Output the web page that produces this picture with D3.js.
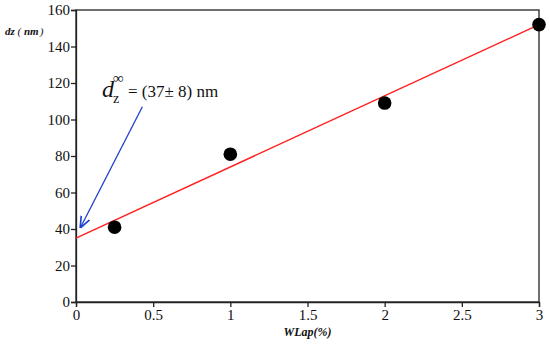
<!DOCTYPE html>
<html>
<head>
<meta charset="utf-8">
<script src="https://cdn.jsdelivr.net/npm/d3@7"></script>
<style>
  body { margin: 0; background: #fff; }
</style>
</head>
<body>
<div id="chart"></div>
<script>
// data
var wlap = [0.25, 1, 2, 3];
var dz = [41, 81, 109, 152];
var fitX = [0, 3];
var fitY = [35, 152];
var arrowX = [0.43, 0.03];
var arrowY = [107, 41];
var xTicks = [0, 0.5, 1, 1.5, 2, 2.5, 3];
var yTicks = [0, 20, 40, 60, 80, 100, 120, 140, 160];

var SERIF = "'Liberation Serif', 'Times New Roman', 'DejaVu Serif', serif";
var W = 550, H = 344;
var margin = {top: 10, right: 11, bottom: 42, left: 76};
var w = W - margin.left - margin.right;
var h = H - margin.top - margin.bottom;

var svg = d3.select("#chart").append("svg")
    .attr("width", W).attr("height", H)
    .attr("font-family", SERIF);

// arrow marker
svg.append("defs").append("marker")
    .attr("id", "ah").attr("viewBox", "0 0 10 10")
    .attr("refX", 9).attr("refY", 5)
    .attr("markerWidth", 9).attr("markerHeight", 9)
    .attr("orient", "auto-start-reverse")
    .append("path").attr("d", "M0,1 L10,5 L0,9").attr("fill", "none")
    .attr("stroke", "#1f3fd0").attr("stroke-width", 1.4);

var g = svg.append("g")
    .attr("transform", "translate(" + margin.left + "," + margin.top + ")");

var x = d3.scaleLinear().domain([0, 3]).range([0, w]);
var y = d3.scaleLinear().domain([0, 160]).range([h, 0]);

// frame
g.append("rect").attr("x", 0).attr("y", 0).attr("width", w).attr("height", h)
    .attr("fill", "none").attr("stroke", "#222").attr("stroke-width", 1.3);

// axes
g.append("g").attr("transform", "translate(0," + h + ")")
    .call(d3.axisBottom(x).tickValues(xTicks).tickFormat(d3.format("")).tickSizeOuter(0).tickSize(5))
    .attr("font-family", SERIF).attr("font-size", 15)
    .call(a => a.select(".domain").attr("stroke", "#222").attr("stroke-width", 1.3))
    .call(a => a.selectAll("line").attr("stroke", "#222").attr("stroke-width", 1.3))
    .call(a => a.selectAll("text").attr("fill", "#111").attr("y", 7).attr("dy", "0.75em"));

g.append("g")
    .call(d3.axisLeft(y).tickValues(yTicks).tickSizeOuter(0).tickSize(5))
    .attr("font-family", SERIF).attr("font-size", 15)
    .call(a => a.select(".domain").attr("stroke", "#222").attr("stroke-width", 1.3))
    .call(a => a.selectAll("line").attr("stroke", "#222").attr("stroke-width", 1.3))
    .call(a => a.selectAll("text").attr("fill", "#111").attr("x", -6));

// fit line
g.append("line")
    .attr("x1", x(fitX[0])).attr("y1", y(fitY[0]))
    .attr("x2", x(fitX[1])).attr("y2", y(fitY[1]))
    .attr("stroke", "#ff2020").attr("stroke-width", 1.4);

// points
g.selectAll("circle").data(wlap).enter().append("circle")
    .attr("cx", (d, i) => x(d)).attr("cy", (d, i) => y(dz[i]))
    .attr("r", 6.8).attr("fill", "#000");

// arrow
g.append("line")
    .attr("x1", x(arrowX[0])).attr("y1", y(arrowY[0]))
    .attr("x2", x(arrowX[1])).attr("y2", y(arrowY[1]))
    .attr("stroke", "#1f3fd0").attr("stroke-width", 1.3)
    .attr("marker-end", "url(#ah)");

// annotation
svg.append("text").attr("x", 102).attr("y", 97).attr("fill", "#111")
    .attr("font-size", 24).attr("font-style", "italic").text("d");
svg.append("text").attr("x", 113).attr("y", 103).attr("fill", "#111")
    .attr("font-size", 14).text("z");
svg.append("text").attr("x", 113).attr("y", 83).attr("fill", "#111")
    .attr("font-size", 15).text("\u221E");
svg.append("text").attr("x", 128).attr("y", 97).attr("fill", "#111")
    .attr("font-size", 17).text("= (37\u00B1 8) nm");

// axis titles
var yt = svg.append("text").attr("x", 5).attr("y", 35)
    .attr("font-size", 11).attr("font-style", "italic").attr("font-weight", "bold").attr("fill", "#111");
yt.append("tspan").text("dz");
yt.append("tspan").text(" ( ").attr("font-weight", "normal");
yt.append("tspan").text("nm");
yt.append("tspan").text(")").attr("font-weight", "normal").attr("dx", 1);

svg.append("text").attr("x", margin.left + x(1.5)).attr("y", 336)
    .attr("text-anchor", "middle")
    .attr("font-size", 12).attr("font-style", "italic").attr("font-weight", "bold")
    .attr("fill", "#111").text("WLap(%)");
</script>
</body>
</html>
